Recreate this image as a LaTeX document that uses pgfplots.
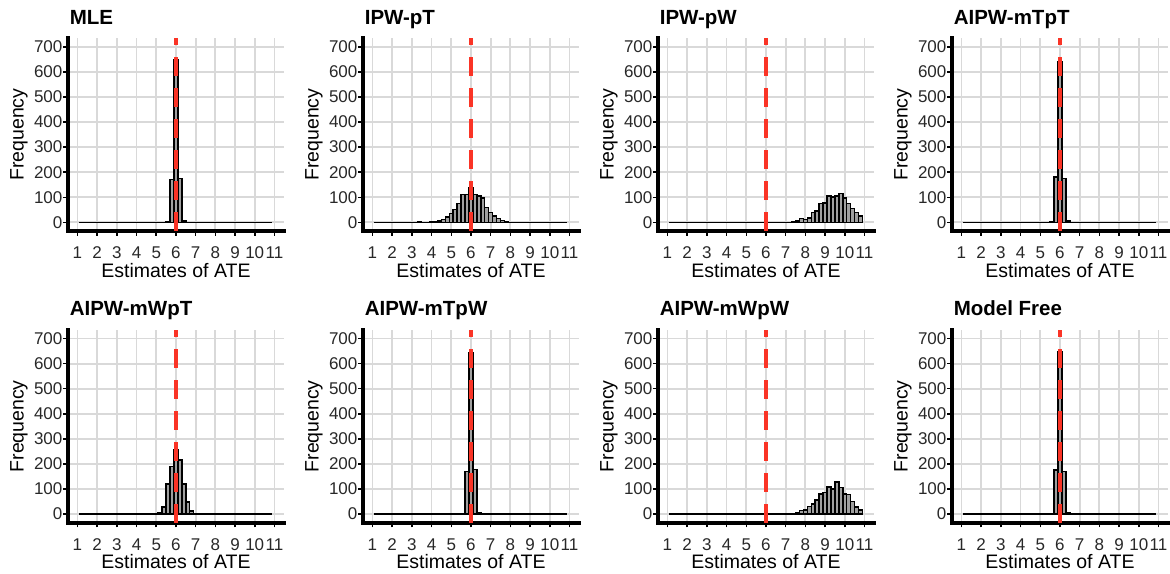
\documentclass[border=0pt]{standalone}
\usepackage{fontspec}
\setmainfont{Liberation Sans}
\usepackage{pgfplots}
\pgfplotsset{compat=1.18}
\definecolor{gridgray}{RGB}{217,217,217}
\definecolor{barfill}{RGB}{160,160,160}
\definecolor{vred}{RGB}{250,52,38}
\definecolor{ticktext}{RGB}{40,40,40}

\pgfplotsset{
  panel/.style={
    scale only axis, width=216.7pt, height=193pt,
    xmin=0.5, xmax=11.5, ymin=-35, ymax=735,
    xtick={1,...,11}, ytick={0,100,...,700},
    axis x line*=bottom, axis y line*=left,
    axis line style={line width=4pt, black, -, line cap=rect},
    tick align=outside, major tick length=4.5pt,
    tick style={black, line width=1.5pt},
    grid=major, major grid style={gridgray, line width=1.8pt},
    /pgf/number format/assume math mode=true,
    tick label style={font=\fontsize{17}{19}\selectfont, color=ticktext, inner sep=0pt},
    xticklabel style={anchor=north, yshift=-11pt},
    yticklabel style={anchor=east, xshift=-0.5pt},
    xlabel={Estimates of ATE}, ylabel={Frequency},
    label style={font=\fontsize{19.5}{22}\selectfont},
    xlabel style={at={([yshift=-46pt]axis description cs:0.5,0)}, anchor=base, inner sep=0pt},
    ylabel style={at={([xshift=-44pt]axis description cs:0,0.5)}, anchor=base, inner sep=0pt},
    title style={at={([xshift=2pt,yshift=8pt]axis description cs:0,1)}, anchor=base west, inner sep=0pt,
      font=\fontsize{20.5}{24}\selectfont\bfseries},
  },
  hbar/.style={ybar, bar width=0.2, bar shift=0pt, draw=black, line width=1.5pt, fill=barfill},
  zline/.style={black, line width=1.5pt},
  vline/.style={vred, line width=4pt, dash pattern=on 19pt off 12pt},
}

\begin{document}
\begin{tikzpicture}
\useasboundingbox (0,0) rectangle (1170pt,573pt);

% row 1
\begin{axis}[panel, at={(67.6pt,341.9pt)}, title={MLE}]
  \addplot[zline] coordinates {(1.1,0) (10.9,0)};
  \addplot[hbar] coordinates {(5.6,2) (5.8,170) (6.0,650) (6.2,175) (6.4,5)};
  \addplot[vline] coordinates {(6,-35) (6,735)};
\end{axis}

\begin{axis}[panel, at={(362.6pt,341.9pt)}, title={IPW-pT}]
  \addplot[zline] coordinates {(1.1,0) (10.9,0)};
  \addplot[hbar] coordinates {
    (3.4,2) (4.0,2) (4.2,3) (4.4,5) (4.6,12) (4.8,22) (5.0,36) (5.2,52) (5.4,75)
    (5.6,112) (5.8,112) (6.0,138) (6.2,112) (6.4,106) (6.6,98) (6.8,60)
    (7.0,40) (7.2,25) (7.4,15) (7.6,8) (7.8,3)};
  \addplot[vline] coordinates {(6,-35) (6,735)};
\end{axis}

\begin{axis}[panel, at={(657.6pt,341.9pt)}, title={IPW-pW}]
  \addplot[zline] coordinates {(1.1,0) (10.9,0)};
  \addplot[hbar] coordinates {
    (7.4,3) (7.6,5) (7.8,15) (8.0,12) (8.2,18) (8.4,40) (8.6,45) (8.8,75)
    (9.0,78) (9.2,105) (9.4,102) (9.6,105) (9.8,115) (10.0,97) (10.2,75)
    (10.4,55) (10.6,40) (10.8,25)};
  \addplot[vline] coordinates {(6,-35) (6,735)};
\end{axis}

\begin{axis}[panel, at={(951.6pt,341.9pt)}, title={AIPW-mTpT}]
  \addplot[zline] coordinates {(1.1,0) (10.9,0)};
  \addplot[hbar] coordinates {(5.6,2) (5.8,180) (6.0,640) (6.2,175) (6.4,5)};
  \addplot[vline] coordinates {(6,-35) (6,735)};
\end{axis}

% row 2
\begin{axis}[panel, at={(67.6pt,50.2pt)}, title={AIPW-mWpT}]
  \addplot[zline] coordinates {(1.1,0) (10.9,0)};
  \addplot[hbar] coordinates {
    (5.0,2) (5.2,5) (5.4,28) (5.6,120) (5.8,190) (6.0,258) (6.2,215)
    (6.4,120) (6.6,47) (6.8,12) (7.0,3)};
  \addplot[vline] coordinates {(6,-35) (6,735)};
\end{axis}

\begin{axis}[panel, at={(362.6pt,50.2pt)}, title={AIPW-mTpW}]
  \addplot[zline] coordinates {(1.1,0) (10.9,0)};
  \addplot[hbar] coordinates {(5.6,2) (5.8,170) (6.0,645) (6.2,178) (6.4,5)};
  \addplot[vline] coordinates {(6,-35) (6,735)};
\end{axis}

\begin{axis}[panel, at={(657.6pt,50.2pt)}, title={AIPW-mWpW}]
  \addplot[zline] coordinates {(1.1,0) (10.9,0)};
  \addplot[hbar] coordinates {
    (7.4,3) (7.6,5) (7.8,15) (8.0,17) (8.2,30) (8.4,40) (8.6,55) (8.8,80)
    (9.0,85) (9.2,108) (9.4,100) (9.6,128) (9.8,105) (10.0,80) (10.2,78)
    (10.4,50) (10.6,28) (10.8,17)};
  \addplot[vline] coordinates {(6,-35) (6,735)};
\end{axis}

\begin{axis}[panel, at={(951.6pt,50.2pt)}, title={Model Free}]
  \addplot[zline] coordinates {(1.1,0) (10.9,0)};
  \addplot[hbar] coordinates {(5.6,2) (5.8,175) (6.0,648) (6.2,170) (6.4,5)};
  \addplot[vline] coordinates {(6,-35) (6,735)};
\end{axis}
\end{tikzpicture}
\end{document}
